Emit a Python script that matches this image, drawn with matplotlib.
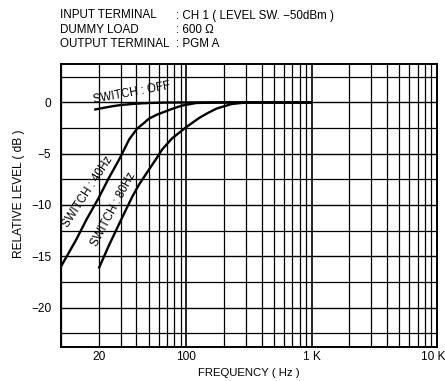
import matplotlib
matplotlib.use("Agg")
import matplotlib.pyplot as plt
from matplotlib.ticker import FixedLocator, NullFormatter
from matplotlib.transforms import ScaledTranslation

plt.rcParams['font.family'] = ['Liberation Sans', 'DejaVu Sans']

# Frequency response readings (Hz, dB)
off_freq = [18.4, 22, 26, 30, 37, 45, 55, 70, 100, 1000]
off_db = [-0.70, -0.52, -0.36, -0.25, -0.15, -0.08, -0.04, -0.01, 0.0, 0.0]

sw40_freq = [10, 13.2, 16, 20, 24, 29, 35, 40.5, 46, 50, 58, 69, 80, 93, 120, 200, 1000]
sw40_db = [-16.0, -13.4, -11.4, -9.3, -7.4, -5.6, -3.6, -2.55, -2.0, -1.6, -1.2, -0.85, -0.55, -0.3, -0.05, 0.0, 0.0]

sw80_freq = [20, 24, 30, 37, 42, 50, 57.5, 64, 77, 100, 127, 150, 174, 230, 300, 1000]
sw80_db = [-16.2, -14.0, -11.5, -9.2, -8.0, -6.6, -5.5, -4.6, -3.5, -2.4, -1.5, -1.0, -0.6, -0.15, 0.0, 0.0]

x_ticks = [20, 100, 1000, 10000]
x_tick_labels = ['20', '100', '1 K', '10 K']
y_ticks = [0, -5, -10, -15, -20]
y_tick_labels = ['0', '\u22125', '\u221210', '\u221215', '\u221220']

header_keys = ['INPUT TERMINAL', 'DUMMY LOAD', 'OUTPUT TERMINAL']
header_values = [': CH 1 ( LEVEL SW. \u221250dBm )', ': 600 \u03a9', ': PGM A']

W, H = 445, 381
fig = plt.figure(figsize=(W / 100, H / 100), dpi=100)
ax = fig.add_axes([61 / W, 1 - 347 / H, (437 - 61) / W, (347 - 64) / H])

ax.set_xscale('log')
ax.set_xlim(10, 10000)
ax.set_ylim(-23.85, 3.75)

# log-paper grid: 1..9 in every decade, 2.5 dB steps
vlines = [m * 10 ** d for d in (1, 2, 3) for m in range(1, 10)] + [10000]
for v in vlines:
    lw = 1.2 if v in (100, 1000) else 0.9
    ax.axvline(v, color='black', lw=lw, zorder=1)
for h in [2.5, 0, -2.5, -5, -7.5, -10, -12.5, -15, -17.5, -20, -22.5]:
    ax.axhline(h, color='black', lw=1.0 if h % 5 == 0 else 0.9, zorder=1)

ax.plot(off_freq, off_db, color='black', lw=1.7, zorder=3, solid_capstyle='butt')
ax.plot(sw40_freq, sw40_db, color='black', lw=1.7, zorder=3, solid_capstyle='butt')
ax.plot(sw80_freq, sw80_db, color='black', lw=1.7, zorder=3, solid_capstyle='butt')

lbl = dict(fontsize=8.3, ha='center', va='center', rotation_mode='anchor', color='black', zorder=4)
ax.text(37, 0.95, 'SWITCH : OFF', rotation=10.5, **lbl)
ax.text(16.5, -8.7, 'SWITCH : 40Hz', rotation=57, **lbl)
ax.text(26.3, -10.4, 'SWITCH : 80Hz', rotation=62, **lbl)

ax.xaxis.set_major_locator(FixedLocator(x_ticks))
ax.set_xticklabels(x_tick_labels)
ax.xaxis.set_minor_formatter(NullFormatter())
ax.xaxis.set_minor_locator(FixedLocator([]))
ax.set_yticks(y_ticks)
ax.set_yticklabels(y_tick_labels)
ax.tick_params(axis='both', length=0, labelsize=8.6, colors='black')
ax.tick_params(axis='x', pad=3)
ax.tick_params(axis='y', pad=7)
# keep the right-hand decade label inside the canvas
last = ax.get_xticklabels()[-1]
last.set_transform(last.get_transform() + ScaledTranslation(-4 / 100, 0, fig.dpi_scale_trans))

for s in ax.spines.values():
    s.set_linewidth(1.4)
    s.set_color('black')

ax.set_xlabel('FREQUENCY ( Hz )', fontsize=8.2)
ax.xaxis.set_label_coords(0.5, -(368 - 347) / (347 - 64))
ax.set_ylabel('RELATIVE LEVEL ( dB )', fontsize=8.6)
ax.yaxis.set_label_coords(-36 / (437 - 61), (347 - 194) / (347 - 64))

rows_y = [15.5, 30, 44]
for key, val, yy in zip(header_keys, header_values, rows_y):
    fig.text(60 / W, 1 - yy / H, key, fontsize=8.4, ha='left', va='center')
    fig.text(176 / W, 1 - yy / H, val, fontsize=8.4, ha='left', va='center')

fig.savefig('out.png', dpi=100)
